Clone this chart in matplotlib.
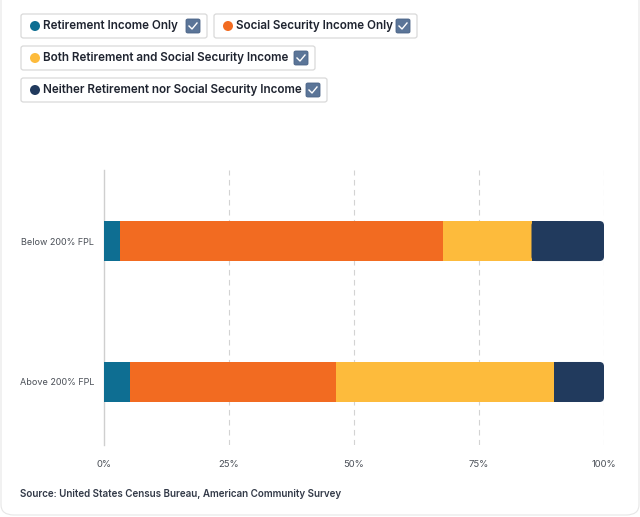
import matplotlib
matplotlib.use('Agg')
import matplotlib.pyplot as plt
from matplotlib.patches import FancyBboxPatch, Ellipse
from matplotlib.ticker import FuncFormatter
import numpy as np

plt.rcParams['font.family'] = ['Inter', 'DejaVu Sans']

# data
categories = ['Below 200% FPL', 'Above 200% FPL']
series = ['Retirement Income Only', 'Social Security Income Only',
          'Both Retirement and Social Security Income',
          'Neither Retirement nor Social Security Income']
retirement_only = [3.1, 5.1]
ss_only = [64.8, 41.2]
both = [17.6, 43.7]
neither = [14.5, 10.0]
colors = ['#0e6e92', '#f26b21', '#fdbb3c', '#213a5d']
source = 'Source: United States Census Bureau, American Community Survey'

W, H = 640, 517
fig = plt.figure(figsize=(W / 100, H / 100), dpi=100)
fig.patch.set_facecolor('white')


def fx(px):
    return px / W


def fy(py):
    return 1 - py / H


# card outline
fig.patches.append(FancyBboxPatch((fx(1), fy(515)), fx(638), 515 / H + 0.05,
                                  boxstyle='round,pad=0,rounding_size=0.02',
                                  transform=fig.transFigure, facecolor='none',
                                  edgecolor='#e6e6e6', linewidth=0.8))

ax = fig.add_axes([fx(104), fy(445), fx(500), (445 - 170) / H])
y = np.arange(len(categories))
bh = 0.284
left = np.zeros(len(categories))
all_vals = [retirement_only, ss_only, both, neither]
for i, (vals, c, name) in enumerate(zip(all_vals, colors, series)):
    if i < len(all_vals) - 1:
        ax.barh(y, vals, left=left, height=bh, color=c, label=name, zorder=3)
    else:
        # last segment has rounded right end
        for yy, l, w in zip(y, left, vals):
            ax.add_patch(FancyBboxPatch((l, yy - bh / 2), w, bh,
                                        boxstyle='round,pad=0,rounding_size=0.9',
                                        mutation_aspect=0.035, facecolor=c,
                                        edgecolor='none', zorder=3))
        ax.barh(y, np.array(vals) / 2, left=left, height=bh, color=c, label=name, zorder=3)
    left += np.array(vals)

ax.set_xlim(0, 100)
ax.set_ylim(1.447, -0.504)
ax.set_yticks(y)
ax.set_yticklabels(categories, fontsize=6.5, color='#4a4f57')
ax.set_xticks([0, 25, 50, 75, 100])
ax.xaxis.set_major_formatter(FuncFormatter(lambda v, p: f'{v:.0f}%'))
ax.tick_params(axis='x', labelsize=6.8, labelcolor='#4a4f57', length=0, pad=11)
ax.tick_params(axis='y', length=0, pad=7)
for s in ['top', 'right', 'bottom']:
    ax.spines[s].set_visible(False)
ax.spines['left'].set_color('#cfcfcf')
ax.spines['left'].set_linewidth(1)
for v in [25, 50, 75, 100]:
    ax.axvline(v, color='#d3d3d3', linestyle=(0, (5, 4)), linewidth=0.8, zorder=1)

# legend as toggle chips
chips = [(21, 14, 207), (214, 14, 417), (21, 46, 315), (21, 78, 327)]
for (x0, y0, x1), name, c in zip(chips, series, colors):
    fig.patches.append(FancyBboxPatch((fx(x0), fy(y0 + 24)), fx(x1 - x0), 24 / H,
                                      boxstyle='round,pad=0,rounding_size=0.004',
                                      transform=fig.transFigure, facecolor='white',
                                      edgecolor='#d9d9d9', linewidth=0.9))
    fig.patches.append(Ellipse((fx(x0 + 14), fy(y0 + 12)), 10 / W, 10 / H,
                               transform=fig.transFigure, facecolor=c, edgecolor='none'))
    fig.text(fx(x0 + 22), fy(y0 + 12), name, fontsize=8.4, color='#1f2430',
             weight='semibold', va='center', ha='left')
    fig.patches.append(FancyBboxPatch((fx(x1 - 21), fy(y0 + 19)), fx(14), 14 / H,
                                      boxstyle='round,pad=0,rounding_size=0.003',
                                      transform=fig.transFigure, facecolor='#5b7598',
                                      edgecolor='#4a6386', linewidth=0.6))
    fig.lines.append(plt.Line2D([fx(x1 - 18), fx(x1 - 15), fx(x1 - 10)],
                                [fy(y0 + 12), fy(y0 + 15), fy(y0 + 9)],
                                transform=fig.transFigure, color='white', linewidth=1))

fig.text(fx(20), fy(494), source, fontsize=7.1, color='#333a48', weight='semibold',
         va='center', ha='left')

plt.savefig('out.png', dpi=100)
